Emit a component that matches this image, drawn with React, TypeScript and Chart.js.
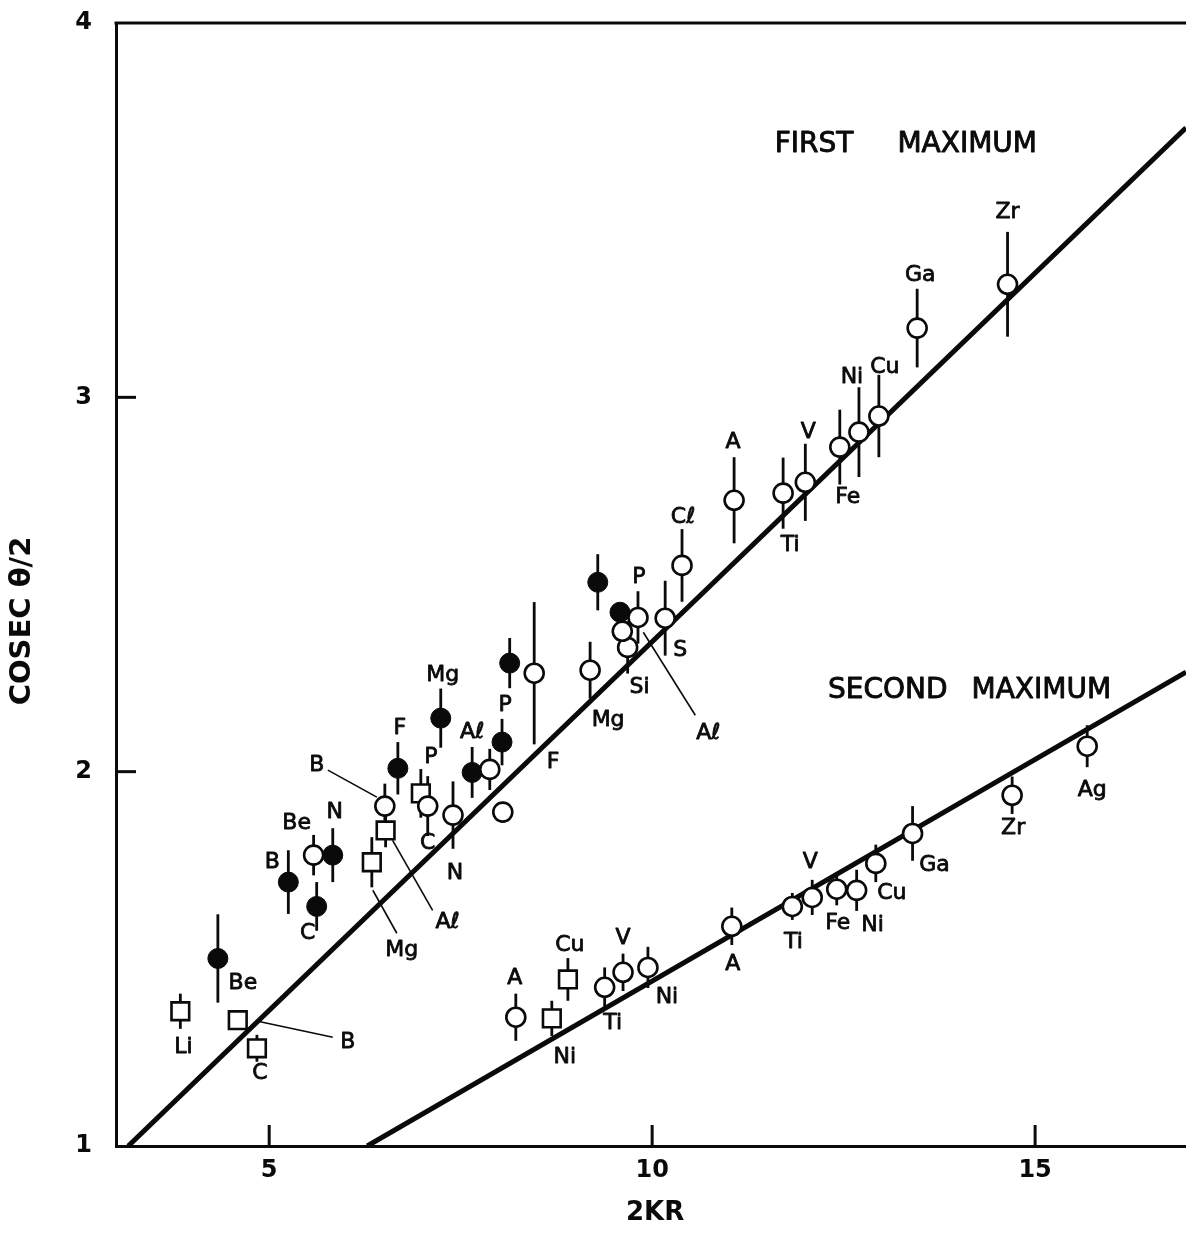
import React, { useEffect, useRef } from 'react';
import { Chart, registerables } from 'chart.js';

Chart.register(...registerables);

// ---------------- data ----------------
const X_TICKS = [5, 10, 15];
const Y_TICKS = [1, 2, 3, 4];
const X_MIN = 3;
const X_MAX = 16.97;
const Y_MIN = 1;
const Y_MAX = 4;
const X_TITLE = '2KR';
const Y_TITLE = 'COSEC θ/2';

// First maximum — open circles
const FIRST_OPEN_LABELS = ['B', 'Be', 'C', 'N', '', '', 'F', 'Mg', 'Si', 'Aℓ', 'P', 'S', 'Cℓ', 'A', 'Ti', 'V', 'Fe', 'Ni', 'Cu', 'Ga', 'Zr'];
const FIRST_OPEN_X = [6.51, 5.58, 7.07, 7.40, 7.88, 8.05, 8.46, 9.19, 9.68, 9.61, 9.815, 10.17, 10.39, 11.07, 11.71, 12.0, 12.45, 12.70, 12.96, 13.46, 14.64];
const FIRST_OPEN_Y = [1.908, 1.777, 1.908, 1.884, 2.006, 1.892, 2.263, 2.271, 2.332, 2.375, 2.412, 2.41, 2.551, 2.725, 2.744, 2.773, 2.867, 2.907, 2.95, 3.185, 3.302];
const FIRST_OPEN_ERR = [0.06, 0.054, 0.08, 0.09, 0.055, 0, 0.19, 0.076, 0.07, 0.04, 0.07, 0.1, 0.097, 0.115, 0.095, 0.103, 0.1, 0.12, 0.11, 0.105, 0.14];

// First maximum — filled circles
const FIRST_FILLED_LABELS = ['Be', 'B', 'C', 'N', 'F', 'Mg', 'Aℓ', 'P', '', '', ''];
const FIRST_FILLED_X = [4.33, 5.25, 5.62, 5.83, 6.68, 7.24, 7.65, 8.04, 8.14, 9.29, 9.58];
const FIRST_FILLED_Y = [1.501, 1.705, 1.640, 1.777, 2.009, 2.143, 1.998, 2.079, 2.29, 2.506, 2.426];
const FIRST_FILLED_ERR = [0.118, 0.085, 0.065, 0.072, 0.07, 0.079, 0.068, 0.062, 0.067, 0.075, 0];

// First maximum — squares
const FIRST_SQUARE_LABELS = ['Li', 'B', 'C', 'Mg', 'Aℓ', 'P'];
const FIRST_SQUARE_X = [3.84, 4.59, 4.84, 6.34, 6.52, 6.98];
const FIRST_SQUARE_Y = [1.36, 1.336, 1.261, 1.758, 1.843, 1.942];
const FIRST_SQUARE_ERR = [0.047, 0, 0.036, 0.067, 0.045, 0.065];

// Second maximum — open circles
const SECOND_OPEN_LABELS = ['A', 'Ti', 'V', 'Ni', 'A', 'Ti', 'V', 'Fe', 'Ni', 'Cu', 'Ga', 'Zr', 'Ag'];
const SECOND_OPEN_X = [8.22, 9.38, 9.62, 9.945, 11.04, 11.83, 12.09, 12.41, 12.67, 12.92, 13.40, 14.70, 15.68];
const SECOND_OPEN_Y = [1.344, 1.424, 1.464, 1.477, 1.587, 1.64, 1.664, 1.686, 1.683, 1.755, 1.835, 1.937, 2.068];
const SECOND_OPEN_ERR = [0.063, 0.053, 0.05, 0.055, 0.05, 0.036, 0.047, 0.043, 0.055, 0.05, 0.073, 0.05, 0.056];

// Second maximum — squares
const SECOND_SQUARE_LABELS = ['Cu', 'Ni'];
const SECOND_SQUARE_X = [8.90, 8.69];
const SECOND_SQUARE_Y = [1.445, 1.341];
const SECOND_SQUARE_ERR = [0.057, 0.047];

// Fitted straight lines (end points, data units)
const FIRST_FIT_X = [3.16, 16.97];
const FIRST_FIT_Y = [1, 3.72];
const SECOND_FIT_X = [6.28, 16.97];
const SECOND_FIT_Y = [1, 2.266];

const ANNOTATION_TEXTS = ['FIRST MAXIMUM', 'SECOND MAXIMUM'];

// ---------------- layout (pixel offsets of labels from their point) ----------------
type Place = { dx: number; dy: number; leader?: [number, number, number, number] } | null;

const FIRST_OPEN_PLACE: Place[] = [
  { dx: -68, dy: -41, leader: [-57, -36, -8, -9] }, { dx: -17, dy: -32 }, { dx: 0, dy: 37 }, { dx: 2, dy: 58 }, null, null,
  { dx: 19, dy: 89 }, { dx: 18, dy: 50 }, { dx: 12, dy: 40 }, { dx: 86, dy: 102, leader: [73, 84, 21, 1] }, { dx: 1, dy: -40 },
  { dx: 15, dy: 32 }, { dx: 1, dy: -48 }, { dx: -1, dy: -58 }, { dx: 7, dy: 52 }, { dx: 3, dy: -50 }, { dx: 8, dy: 50 },
  { dx: -7, dy: -55 }, { dx: 6, dy: -49 }, { dx: 3, dy: -53 }, { dx: 0, dy: -72 },
];
const FIRST_FILLED_PLACE: Place[] = [
  { dx: 25, dy: 25 }, { dx: -16, dy: -20 }, { dx: -9, dy: 27 }, { dx: 2, dy: -43 }, { dx: 2, dy: -40 }, { dx: 2, dy: -43 },
  { dx: 0, dy: -40 }, { dx: 3, dy: -37 }, null, null, null,
];
const FIRST_SQUARE_PLACE: Place[] = [
  { dx: 3, dy: 36 }, { dx: 110, dy: 22, leader: [20, 1, 95, 17] }, { dx: 3, dy: 25 },
  { dx: 30, dy: 88, leader: [1, 28, 25, 71] }, { dx: 62, dy: 92, leader: [7, 10, 47, 80] }, { dx: 10, dy: -36 },
];
const SECOND_OPEN_PLACE: Place[] = [
  { dx: -1, dy: -39 }, { dx: 8, dy: 36 }, { dx: 0, dy: -34 }, { dx: 19, dy: 30 }, { dx: 1, dy: 38 }, { dx: 1, dy: 36 },
  { dx: -2, dy: -35 }, { dx: 1, dy: 34 }, { dx: 16, dy: 35 }, { dx: 16, dy: 30 }, { dx: 22, dy: 32 }, { dx: 1, dy: 33 }, { dx: 5, dy: 44 },
];
const SECOND_SQUARE_PLACE: Place[] = [{ dx: 2, dy: -34 }, { dx: 13, dy: 39 }];

// annotation anchors (data units, left edge / vertical centre) and word gap in px
const ANNOTATION_ANCHORS = [
  { x: 11.6, y: 3.674, gap: 44 },
  { x: 12.295, y: 2.217, gap: 24 },
];

type Series = {
  xs: number[]; ys: number[]; errs: number[]; labels: string[]; places: Place[];
  style: 'open' | 'filled' | 'square';
};

const SERIES: Series[] = [
  { xs: FIRST_SQUARE_X, ys: FIRST_SQUARE_Y, errs: FIRST_SQUARE_ERR, labels: FIRST_SQUARE_LABELS, places: FIRST_SQUARE_PLACE, style: 'square' },
  { xs: SECOND_SQUARE_X, ys: SECOND_SQUARE_Y, errs: SECOND_SQUARE_ERR, labels: SECOND_SQUARE_LABELS, places: SECOND_SQUARE_PLACE, style: 'square' },
  { xs: FIRST_FILLED_X, ys: FIRST_FILLED_Y, errs: FIRST_FILLED_ERR, labels: FIRST_FILLED_LABELS, places: FIRST_FILLED_PLACE, style: 'filled' },
  { xs: FIRST_OPEN_X, ys: FIRST_OPEN_Y, errs: FIRST_OPEN_ERR, labels: FIRST_OPEN_LABELS, places: FIRST_OPEN_PLACE, style: 'open' },
  { xs: SECOND_OPEN_X, ys: SECOND_OPEN_Y, errs: SECOND_OPEN_ERR, labels: SECOND_OPEN_LABELS, places: SECOND_OPEN_PLACE, style: 'open' },
];

const FONT = '"DejaVu Sans", "Liberation Sans", sans-serif';
const INK = '#0a0a0a';

const heavyText = (ctx: CanvasRenderingContext2D, t: string, x: number, y: number, w: number) => {
  ctx.lineWidth = w;
  ctx.lineJoin = 'round';
  ctx.strokeText(t, x, y);
  ctx.fillText(t, x, y);
};

const overlayPlugin = {
  id: 'overlay',
  beforeDatasetsDraw(chart: any) {
    const ctx = chart.ctx as CanvasRenderingContext2D;
    const xs = chart.scales.x;
    const ys = chart.scales.y;
    const area = chart.chartArea;
    ctx.save();
    ctx.strokeStyle = INK;
    ctx.lineCap = 'butt';
    // error bars
    ctx.lineWidth = 2.8;
    for (const s of SERIES) {
      s.xs.forEach((x, i) => {
        const e = s.errs[i];
        if (!e) return;
        const px = xs.getPixelForValue(x);
        ctx.beginPath();
        ctx.moveTo(px, ys.getPixelForValue(s.ys[i] + e));
        ctx.lineTo(px, ys.getPixelForValue(s.ys[i] - e));
        ctx.stroke();
      });
    }
    // inner tick marks
    ctx.lineWidth = 3;
    for (const v of X_TICKS) {
      const p = xs.getPixelForValue(v);
      ctx.beginPath();
      ctx.moveTo(p, area.bottom);
      ctx.lineTo(p, area.bottom - 21);
      ctx.stroke();
    }
    for (const v of Y_TICKS) {
      if (v <= Y_MIN || v >= Y_MAX) continue;
      const p = ys.getPixelForValue(v);
      ctx.beginPath();
      ctx.moveTo(area.left, p);
      ctx.lineTo(area.left + 20, p);
      ctx.stroke();
    }
    // top frame line
    ctx.beginPath();
    ctx.moveTo(area.left - 1.5, area.top);
    ctx.lineTo(area.right, area.top);
    ctx.stroke();
    ctx.restore();
  },
  afterDatasetsDraw(chart: any) {
    const ctx = chart.ctx as CanvasRenderingContext2D;
    const xs = chart.scales.x;
    const ys = chart.scales.y;
    ctx.save();
    ctx.fillStyle = INK;
    ctx.strokeStyle = INK;
    ctx.textAlign = 'center';
    ctx.textBaseline = 'middle';
    ctx.font = `22px ${FONT}`;
    for (const s of SERIES) {
      s.xs.forEach((x, i) => {
        const pl = s.places[i];
        const txt = s.labels[i];
        if (!pl || !txt) return;
        const px = xs.getPixelForValue(x);
        const py = ys.getPixelForValue(s.ys[i]);
        heavyText(ctx, txt, px + pl.dx, py + pl.dy, 0.8);
        if (pl.leader) {
          ctx.lineWidth = 1.6;
          ctx.beginPath();
          ctx.moveTo(px + pl.leader[0], py + pl.leader[1]);
          ctx.lineTo(px + pl.leader[2], py + pl.leader[3]);
          ctx.stroke();
        }
      });
    }
    // annotations
    ctx.font = `28px ${FONT}`;
    ctx.textAlign = 'left';
    ANNOTATION_TEXTS.forEach((t, i) => {
      const a = ANNOTATION_ANCHORS[i];
      let x = xs.getPixelForValue(a.x);
      const y = ys.getPixelForValue(a.y);
      for (const w of t.split(' ')) {
        heavyText(ctx, w, x, y, 0.9);
        x += ctx.measureText(w).width + a.gap;
      }
    });
    // axis titles
    ctx.font = `bold 26px ${FONT}`;
    ctx.textAlign = 'center';
    ctx.fillText(X_TITLE, xs.getPixelForValue(10) + 3, 1213);
    ctx.save();
    ctx.translate(22, 621);
    ctx.rotate(-Math.PI / 2);
    ctx.font = `bold 29px ${FONT}`;
    ctx.fillText(Y_TITLE, 0, 0);
    ctx.restore();
    ctx.restore();
  },
};

const pts = (xs: number[], ys: number[]) => xs.map((x, i) => ({ x, y: ys[i] }));

export default function App() {
  const ref = useRef<HTMLCanvasElement | null>(null);
  useEffect(() => {
    if (!ref.current) return;
    const styleOf = (s: Series) => {
      if (s.style === 'open') return { pointStyle: 'circle', pointRadius: 9.5, backgroundColor: '#fff', borderColor: INK, borderWidth: 2.6, order: 0 };
      if (s.style === 'filled') return { pointStyle: 'circle', pointRadius: 10, backgroundColor: INK, borderColor: INK, borderWidth: 1, order: 1 };
      return { pointStyle: 'rect', pointRadius: 12.5, backgroundColor: '#fff', borderColor: INK, borderWidth: 2.6, order: 2 };
    };
    const datasets: any[] = SERIES.map((s) => ({ data: pts(s.xs, s.ys), showLine: false, ...styleOf(s) }));
    datasets.push(
      { data: pts(FIRST_FIT_X, FIRST_FIT_Y), showLine: true, pointRadius: 0, borderColor: INK, borderWidth: 5, order: 10 },
      { data: pts(SECOND_FIT_X, SECOND_FIT_Y), showLine: true, pointRadius: 0, borderColor: INK, borderWidth: 5, order: 10 },
    );
    const tickFont = { family: FONT, size: 24, weight: 'bold' as const };
    const chart = new Chart(ref.current, {
      type: 'scatter',
      data: { datasets },
      options: {
        animation: false,
        responsive: false,
        maintainAspectRatio: false,
        layout: { autoPadding: false, padding: { top: 23, right: 0, left: 0, bottom: 0 } },
        plugins: { legend: { display: false }, tooltip: { enabled: false } },
        scales: {
          x: {
            type: 'linear', min: X_MIN, max: X_MAX,
            afterBuildTicks: (s: any) => { s.ticks = X_TICKS.map((v) => ({ value: v })); },
            afterFit: (s: any) => { s.height = 88; s.paddingLeft = 0; s.paddingRight = 0; },
            grid: { display: false, drawTicks: false },
            border: { display: true, color: INK, width: 3 },
            ticks: { color: INK, font: tickFont, padding: 10, maxRotation: 0 },
          },
          y: {
            type: 'linear', min: Y_MIN, max: Y_MAX,
            afterBuildTicks: (s: any) => { s.ticks = Y_TICKS.map((v) => ({ value: v })); },
            afterFit: (s: any) => { s.width = 116; s.paddingTop = 0; s.paddingBottom = 0; },
            grid: { display: false, drawTicks: false },
            border: { display: true, color: INK, width: 3 },
            ticks: { color: INK, font: tickFont, padding: 24 },
          },
        },
      },
      plugins: [overlayPlugin],
    } as any);
    return () => chart.destroy();
  }, []);
  return (
    <div style={{ position: 'absolute', left: 0, top: 0, width: 1186, height: 1234, background: '#fff' }}>
      <canvas ref={ref} width={1186} height={1234} style={{ width: 1186, height: 1234, display: 'block' }} />
    </div>
  );
}
